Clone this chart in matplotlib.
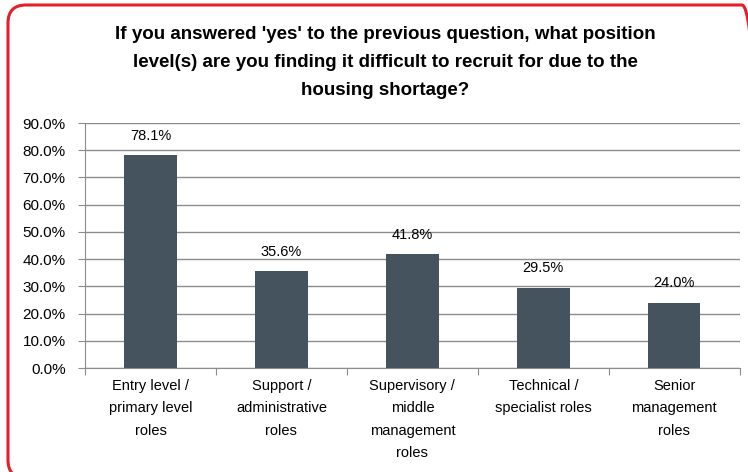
import matplotlib
matplotlib.use('Agg')
import matplotlib.pyplot as plt
from matplotlib.patches import FancyBboxPatch
from matplotlib.transforms import IdentityTransform
import numpy as np

plt.rcParams['font.family'] = ['Liberation Sans', 'DejaVu Sans']

categorias = ['Entry level /\nprimary level\nroles',
              'Support /\nadministrative\nroles',
              'Supervisory /\nmiddle\nmanagement\nroles',
              'Technical /\nspecialist roles',
              'Senior\nmanagement\nroles']
valores = [78.1, 35.6, 41.8, 29.5, 24.0]
titulo = ("If you answered 'yes' to the previous question, what position\n"
          "level(s) are you finding it difficult to recruit for due to the\n"
          "housing shortage?")

fig = plt.figure(figsize=(7.48, 4.72), dpi=100)
ax = fig.add_axes([0.1136, 0.2203, 0.8754, 0.5191])

# moldura vermelha arredondada em pixels (cortada à direita e embaixo)
moldura = FancyBboxPatch((8, -6), 752, 473,
                         boxstyle='round,pad=0,rounding_size=18',
                         transform=IdentityTransform(), fill=False,
                         edgecolor='#E51E2A', linewidth=2.2, zorder=0)
fig.patches.append(moldura)

x = np.arange(len(categorias))
barras = ax.bar(x, valores, width=0.4, color='#44535E', zorder=3)

for xi, v in zip(x, valores):
    ax.text(xi, v + 4.6, f'{v:.1f}%', ha='center', va='bottom', fontsize=10.5)

ax.set_xlim(-0.5, len(categorias) - 0.5)
ax.set_ylim(0, 90)
ax.set_yticks(np.arange(0, 91, 10))
ax.set_yticklabels([f'{t:.1f}%' for t in np.arange(0, 91, 10)], fontsize=11)
ax.yaxis.grid(True, color='#8C8C8C', linewidth=1.0, zorder=0)
ax.set_axisbelow(True)

ax.set_xticks(np.arange(-0.5, len(categorias)), minor=False)
ax.set_xticklabels([])
ax.set_xticks(x, minor=True)
ax.set_xticklabels(categorias, minor=True, fontsize=10.5, linespacing=1.75)
ax.tick_params(axis='x', which='minor', length=0, pad=8)
ax.tick_params(axis='x', which='major', length=5, color='#8C8C8C')
ax.tick_params(axis='y', length=5, color='#8C8C8C', pad=9)

for lado in ['top', 'right']:
    ax.spines[lado].set_visible(False)
ax.spines['left'].set_color('#8C8C8C')
ax.spines['bottom'].set_color('#8C8C8C')

fig.text(0.515, 0.945, titulo, ha='center', va='top', fontsize=13.5,
         fontweight='bold', linespacing=1.85)

fig.savefig('out.png', dpi=100)
